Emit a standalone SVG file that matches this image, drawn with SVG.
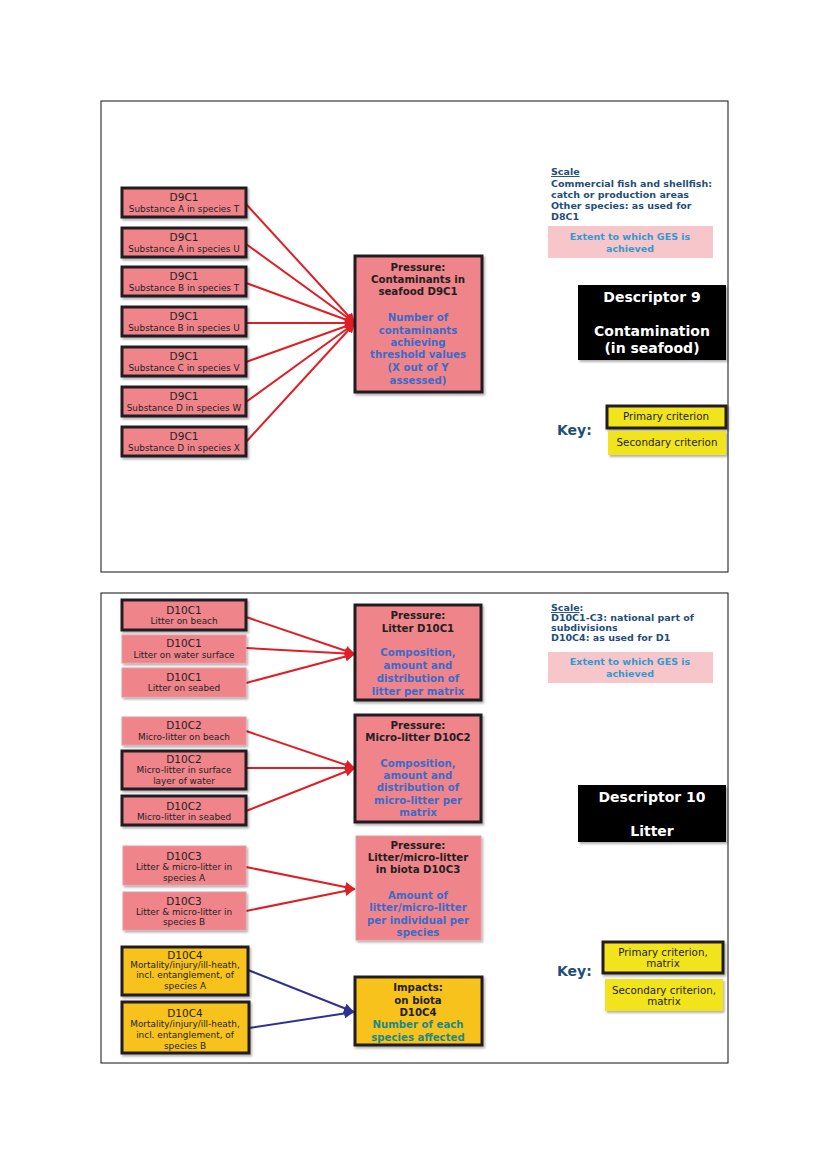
<svg xmlns="http://www.w3.org/2000/svg" width="826" height="1169" viewBox="0 0 826 1169">
<defs>
<filter id="sh" x="-10%" y="-10%" width="130%" height="140%"><feDropShadow dx="1.5" dy="2" stdDeviation="1" flood-color="#000" flood-opacity="0.3"/></filter>
<marker id="ar" viewBox="0 0 10 10" refX="10" refY="5" markerWidth="5" markerHeight="5" orient="auto" markerUnits="strokeWidth"><path d="M0,0 L10,5 L0,10 z" fill="#E01E25"/></marker>
<marker id="ab" viewBox="0 0 10 10" refX="10" refY="5" markerWidth="5" markerHeight="5" orient="auto" markerUnits="strokeWidth"><path d="M0,0 L10,5 L0,10 z" fill="#2E3192"/></marker>
<style>
.panel{fill:#fff;stroke:#111;stroke-width:1}
.pkd{fill:#F0848B;stroke:#231F20;stroke-width:3;filter:url(#sh)}
.pkl{fill:#F0848B;stroke:#E69AA0;stroke-width:1;filter:url(#sh)}
.yd{fill:#F7C21D;stroke:#231F20;stroke-width:3;filter:url(#sh)}
.ky{fill:#F2E41C;stroke:#231F20;stroke-width:3;filter:url(#sh)}
.kyl{fill:#F2E41C;filter:url(#sh)}
.ext{fill:#F7C6CA}
.blk{fill:#000;filter:url(#sh)}
text{font-family:"DejaVu Sans","Liberation Sans",sans-serif;text-anchor:middle}
.t1{font-size:10.5px;fill:#231F20}
.t2{font-size:8.9px;fill:#231F20}
.hb{font-size:10.2px;font-weight:bold;fill:#231F20}
.hbl{font-size:10.2px;font-weight:bold;fill:#3B6BC8}
.hte{font-size:10.2px;font-weight:bold;fill:#1B8A86}
.sc{font-size:9.5px;font-weight:bold;fill:#1F4E79;text-anchor:start}
.ex{font-size:9.5px;font-weight:bold;fill:#3399D0}
.ds{font-size:14px;font-weight:bold;fill:#fff}
.key{font-size:14px;font-weight:bold;fill:#1F4E79;text-anchor:start}
.kt{font-size:10.3px;fill:#231F20}
.rl{stroke:#E01E25;stroke-width:2;fill:none;marker-end:url(#ar)}
.bl{stroke:#2E3192;stroke-width:2;fill:none;marker-end:url(#ab)}
</style>
</defs>
<rect width="826" height="1169" fill="#fff"/>
<rect class="panel" x="101" y="101" width="627" height="471"/>
<rect class="panel" x="101" y="593" width="627" height="470"/>

<g id="connectors">
<line class="rl" x1="246" y1="204" x2="355" y2="323"/>
<line class="rl" x1="246" y1="244" x2="355" y2="323"/>
<line class="rl" x1="246" y1="283" x2="355" y2="323"/>
<line class="rl" x1="246" y1="323" x2="355" y2="323"/>
<line class="rl" x1="246" y1="362" x2="355" y2="323"/>
<line class="rl" x1="246" y1="402" x2="355" y2="323"/>
<line class="rl" x1="246" y1="442" x2="355" y2="323"/>
<line class="rl" x1="246" y1="617" x2="355" y2="654"/>
<line class="rl" x1="246" y1="648" x2="355" y2="654"/>
<line class="rl" x1="246" y1="683" x2="355" y2="654"/>
<line class="rl" x1="246" y1="731" x2="355" y2="768"/>
<line class="rl" x1="246" y1="768" x2="355" y2="768"/>
<line class="rl" x1="246" y1="811" x2="355" y2="768"/>
<line class="rl" x1="246" y1="867" x2="355" y2="889"/>
<line class="rl" x1="246" y1="911" x2="355" y2="889"/>
<line class="bl" x1="248" y1="970" x2="354" y2="1012"/>
<line class="bl" x1="249" y1="1028" x2="354" y2="1012"/>
</g>

<g id="d9c1-at"><rect class="pkd" x="122" y="188" width="124" height="29"/><text class="t1" x="184" y="201">D9C1</text><text class="t2" x="184" y="212">Substance A in species T</text></g>
<g id="d9c1-au"><rect class="pkd" x="122" y="228" width="124" height="29"/><text class="t1" x="184" y="241">D9C1</text><text class="t2" x="184" y="252">Substance A in species U</text></g>
<g id="d9c1-bt"><rect class="pkd" x="122" y="267" width="124" height="29"/><text class="t1" x="184" y="280">D9C1</text><text class="t2" x="184" y="291">Substance B in species T</text></g>
<g id="d9c1-bu"><rect class="pkd" x="122" y="307" width="124" height="29"/><text class="t1" x="184" y="320">D9C1</text><text class="t2" x="184" y="331">Substance B in species U</text></g>
<g id="d9c1-cv"><rect class="pkd" x="122" y="347" width="124" height="29"/><text class="t1" x="184" y="360">D9C1</text><text class="t2" x="184" y="371">Substance C in species V</text></g>
<g id="d9c1-dw"><rect class="pkd" x="122" y="387" width="124" height="29"/><text class="t1" x="184" y="400">D9C1</text><text class="t2" x="184" y="411">Substance D in species W</text></g>
<g id="d9c1-dx"><rect class="pkd" x="122" y="427" width="124" height="29"/><text class="t1" x="184" y="440">D9C1</text><text class="t2" x="184" y="451">Substance D in species X</text></g>

<g id="pressure-d9c1"><rect class="pkd" x="355" y="256" width="127" height="136"/>
<text class="hb" x="418" y="271">Pressure:</text><text class="hb" x="418" y="283">Contaminants in</text><text class="hb" x="418" y="295">seafood D9C1</text>
<text class="hbl" x="418" y="321">Number of</text><text class="hbl" x="418" y="334">contaminants</text><text class="hbl" x="418" y="346">achieving</text><text class="hbl" x="418" y="358">threshold values</text><text class="hbl" x="418" y="371">(X out of Y</text><text class="hbl" x="418" y="384">assessed)</text></g>

<g id="scale-d9">
<text class="sc" x="551" y="175"><tspan text-decoration="underline">Scale</tspan></text>
<text class="sc" x="551" y="187">Commercial fish and shellfish:</text>
<text class="sc" x="551" y="198">catch or production areas</text>
<text class="sc" x="551" y="209">Other species: as used for</text>
<text class="sc" x="551" y="220">D8C1</text>
</g>
<g id="extent-d9"><rect class="ext" x="548" y="226" width="165" height="32"/><text class="ex" x="630" y="240">Extent to which GES is</text><text class="ex" x="630" y="252">achieved</text></g>
<g id="descriptor-9"><rect class="blk" x="578" y="285" width="148" height="75"/><text class="ds" x="652" y="302">Descriptor  9</text><text class="ds" x="652" y="336">Contamination</text><text class="ds" x="652" y="353">(in seafood)</text></g>
<g id="key-d9"><text class="key" x="557" y="435">Key:</text>
<rect class="ky" x="607" y="406" width="119" height="22"/><text class="kt" x="666" y="420">Primary criterion</text>
<rect class="kyl" x="608" y="431" width="118" height="24"/><text class="kt" x="667" y="446">Secondary criterion</text></g>

<g id="d10c1-beach"><rect class="pkd" x="122" y="600" width="124" height="30"/><text class="t1" x="184" y="614">D10C1</text><text class="t2" x="184" y="624">Litter on beach</text></g>
<g id="d10c1-surface"><rect class="pkl" x="122" y="635" width="124" height="28"/><text class="t1" x="184" y="647">D10C1</text><text class="t2" x="184" y="658">Litter on water surface</text></g>
<g id="d10c1-seabed"><rect class="pkl" x="122" y="668" width="124" height="29"/><text class="t1" x="184" y="681">D10C1</text><text class="t2" x="184" y="691">Litter on seabed</text></g>

<g id="d10c2-beach"><rect class="pkl" x="122" y="717" width="124" height="28"/><text class="t1" x="184" y="729">D10C2</text><text class="t2" x="184" y="740">Micro-litter on beach</text></g>
<g id="d10c2-surface"><rect class="pkd" x="122" y="751" width="124" height="38"/><text class="t1" x="184" y="763">D10C2</text><text class="t2" x="184" y="773">Micro-litter in surface</text><text class="t2" x="184" y="784">layer of water</text></g>
<g id="d10c2-seabed"><rect class="pkd" x="122" y="796" width="124" height="29"/><text class="t1" x="184" y="810">D10C2</text><text class="t2" x="184" y="820">Micro-litter in seabed</text></g>

<g id="d10c3-a"><rect class="pkl" x="123" y="846" width="123" height="39"/><text class="t1" x="184" y="860">D10C3</text><text class="t2" x="184" y="870">Litter &amp; micro-litter in</text><text class="t2" x="184" y="881">species A</text></g>
<g id="d10c3-b"><rect class="pkl" x="123" y="892" width="123" height="38"/><text class="t1" x="184" y="905">D10C3</text><text class="t2" x="184" y="915">Litter &amp; micro-litter in</text><text class="t2" x="184" y="925">species B</text></g>

<g id="d10c4-a"><rect class="yd" x="122" y="947" width="126" height="48"/><text class="t1" x="185" y="959">D10C4</text><text class="t2" x="185" y="968">Mortality/injury/ill-heath,</text><text class="t2" x="185" y="978">incl. entanglement, of</text><text class="t2" x="185" y="989">species A</text></g>
<g id="d10c4-b"><rect class="yd" x="122" y="1002" width="127" height="51"/><text class="t1" x="185" y="1017">D10C4</text><text class="t2" x="185" y="1027">Mortality/injury/ill-heath,</text><text class="t2" x="185" y="1038">incl. entanglement, of</text><text class="t2" x="185" y="1049">species B</text></g>

<g id="pressure-d10c1"><rect class="pkd" x="355" y="605" width="126" height="95"/>
<text class="hb" x="418" y="619">Pressure:</text><text class="hb" x="418" y="632">Litter D10C1</text>
<text class="hbl" x="418" y="656">Composition,</text><text class="hbl" x="418" y="669">amount and</text><text class="hbl" x="418" y="682">distribution of</text><text class="hbl" x="418" y="695">litter per matrix</text></g>
<g id="pressure-d10c2"><rect class="pkd" x="355" y="715" width="126" height="107"/>
<text class="hb" x="418" y="729">Pressure:</text><text class="hb" x="418" y="741">Micro-litter D10C2</text>
<text class="hbl" x="418" y="767">Composition,</text><text class="hbl" x="418" y="779">amount and</text><text class="hbl" x="418" y="791">distribution of</text><text class="hbl" x="418" y="804">micro-litter per</text><text class="hbl" x="418" y="816">matrix</text></g>
<g id="pressure-d10c3"><rect class="pkl" x="356" y="836" width="125" height="104"/>
<text class="hb" x="418" y="849">Pressure:</text><text class="hb" x="418" y="861">Litter/micro-litter</text><text class="hb" x="418" y="873">in biota D10C3</text>
<text class="hbl" x="418" y="899">Amount of</text><text class="hbl" x="418" y="911">litter/micro-litter</text><text class="hbl" x="418" y="924">per individual per</text><text class="hbl" x="418" y="936">species</text></g>
<g id="impacts-d10c4"><rect class="yd" x="355" y="977" width="127" height="68"/>
<text class="hb" x="418" y="991">Impacts:</text><text class="hb" x="418" y="1004">on biota</text><text class="hb" x="418" y="1016">D10C4</text>
<text class="hte" x="418" y="1028">Number of each</text><text class="hte" x="418" y="1041">species affected</text></g>

<g id="scale-d10">
<text class="sc" x="551" y="611"><tspan text-decoration="underline">Scale</tspan>:</text>
<text class="sc" x="551" y="621">D10C1-C3: national part of</text>
<text class="sc" x="551" y="631">subdivisions</text>
<text class="sc" x="551" y="641">D10C4: as used for D1</text>
</g>
<g id="extent-d10"><rect class="ext" x="548" y="652" width="165" height="31"/><text class="ex" x="630" y="665">Extent to which GES is</text><text class="ex" x="630" y="677">achieved</text></g>
<g id="descriptor-10"><rect class="blk" x="578" y="785" width="148" height="57"/><text class="ds" x="652" y="802">Descriptor  10</text><text class="ds" x="652" y="836">Litter</text></g>
<g id="key-d10"><text class="key" x="557" y="976">Key:</text>
<rect class="ky" x="603" y="942" width="120" height="31"/><text class="kt" x="663" y="956">Primary criterion,</text><text class="kt" x="663" y="967">matrix</text>
<rect class="kyl" x="605" y="979" width="118" height="32"/><text class="kt" x="664" y="994">Secondary criterion,</text><text class="kt" x="664" y="1005">matrix</text></g>
</svg>
